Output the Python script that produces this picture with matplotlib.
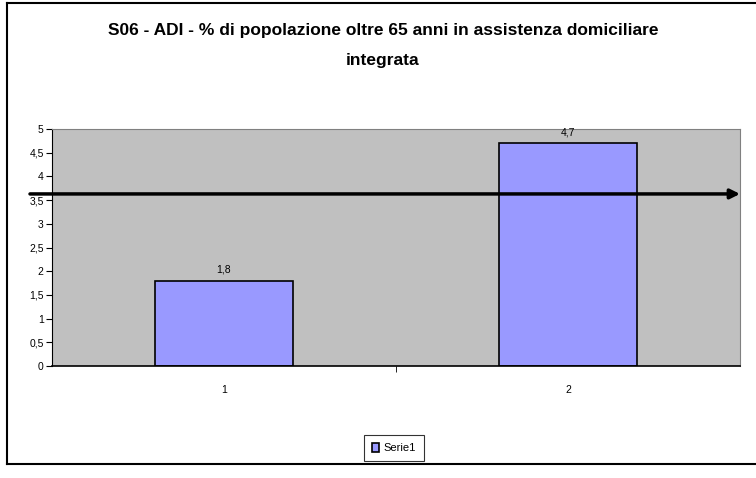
import matplotlib.pyplot as plt
from matplotlib.lines import Line2D

categorie = [1, 2]
valori = [1.8, 4.7]
etichette = ["1,8", "4,7"]
soglia = 3.63
yticks = [0, 0.5, 1, 1.5, 2, 2.5, 3, 3.5, 4, 4.5, 5]
ylabels = ["0", "0,5", "1", "1,5", "2", "2,5", "3", "3,5", "4", "4,5", "5"]

plt.rcParams['font.family'] = ['Liberation Sans', 'DejaVu Sans']

fig = plt.figure(figsize=(7.56, 4.78), dpi=100)
ax = fig.add_axes([52/756, 1-366/478, 688/756, 237/478])
ax.set_facecolor('#C0C0C0')

ax.bar(categorie, valori, width=0.4, color='#9999FF', edgecolor='black', linewidth=1.2, label='Serie1')
for x, v, t in zip(categorie, valori, etichette):
    ax.text(x, v + 0.12, t, ha='center', va='bottom', fontsize=7.5)

ax.set_xlim(0.5, 2.5)
ax.set_ylim(0, 5)
ax.set_yticks(yticks)
ax.set_yticklabels(ylabels, fontsize=7.5)
ax.set_xticks(categorie)
ax.set_xticklabels(['1', '2'], fontsize=7.5)
ax.tick_params(axis='x', length=0, pad=14)
ax.set_xticks([1.5], minor=True)
ax.tick_params(axis='x', which='minor', length=4, direction='out')
ax.tick_params(axis='y', length=4, direction='out', pad=2)

ax.spines['top'].set_color('#808080')
ax.spines['right'].set_color('#808080')
ax.spines['left'].set_color('black')
ax.spines['bottom'].set_color('black')
ax.spines['bottom'].set_linewidth(1.2)

# freccia di riferimento
ax.annotate('', xy=(1.0, soglia), xycoords=('axes fraction', 'data'),
            xytext=(30/756, soglia), textcoords=('figure fraction', 'data'),
            arrowprops=dict(arrowstyle='-|>', color='black', lw=2.5, mutation_scale=14,
                            shrinkA=0, shrinkB=0),
            annotation_clip=False)

fig.text(383/756, 1-30/478, 'S06 - ADI - % di popolazione oltre 65 anni in assistenza domiciliare',
         ha='center', va='center', fontsize=12.5, fontweight='bold')
fig.text(383/756, 1-60/478, 'integrata', ha='center', va='center', fontsize=12.5, fontweight='bold')

leg = fig.legend(loc='center', bbox_to_anchor=(394/756, 1-448/478), fontsize=8,
                 frameon=True, fancybox=False, edgecolor='black', handlelength=0.6,
                 handleheight=0.9, handletextpad=0.4, borderpad=0.7)
leg.get_frame().set_linewidth(0.8)

# cornice esterna
fig.add_artist(Line2D([7/756, 7/756], [1-3/478, 1-464/478], color='black', lw=1.5, transform=fig.transFigure))
fig.add_artist(Line2D([7/756, 1], [1-3/478, 1-3/478], color='black', lw=1.5, transform=fig.transFigure))
fig.add_artist(Line2D([7/756, 1], [1-464/478, 1-464/478], color='black', lw=1.5, transform=fig.transFigure))

plt.savefig("out.png", dpi=100)
